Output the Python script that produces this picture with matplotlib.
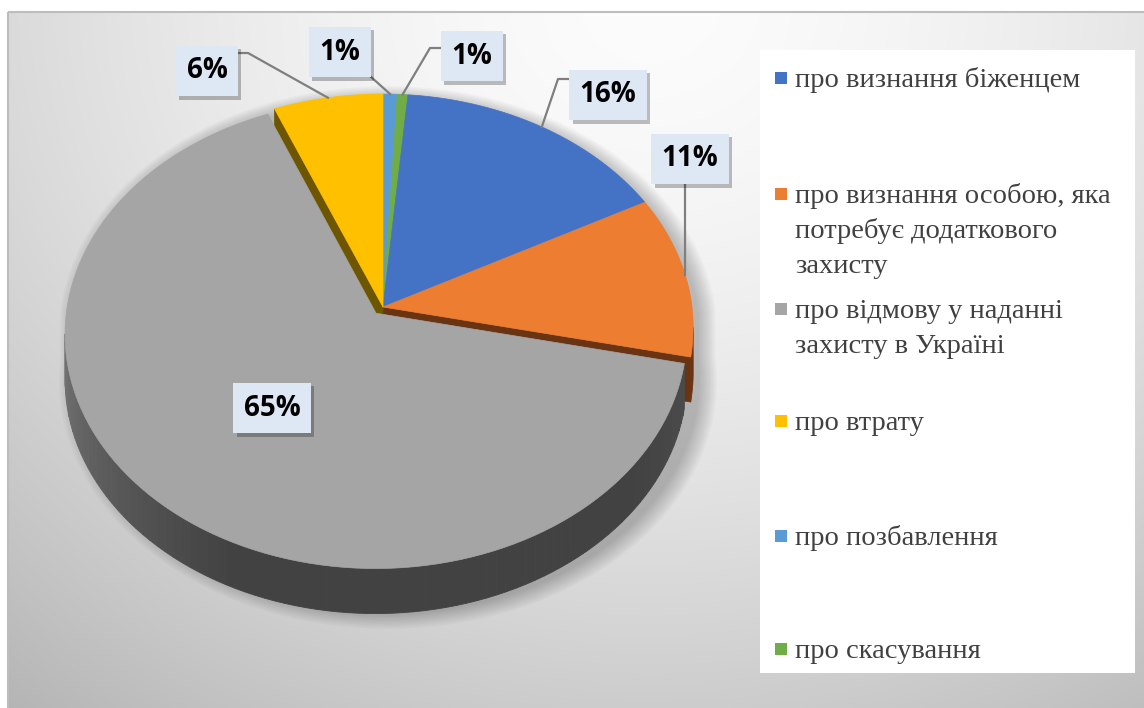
import numpy as np
import matplotlib.pyplot as plt
from matplotlib.patches import Polygon, Rectangle
import matplotlib.patheffects as pe

# data (legend order)
categories = ['про визнання біженцем',
              'про визнання особою, яка\nпотребує додаткового\nзахисту',
              'про відмову у наданні\nзахисту в Україні',
              'про втрату',
              'про позбавлення',
              'про скасування']
shares = [15.8, 11.2, 65.4, 6.2, 0.8, 0.6]
pct_labels = ['%d%%' % round(s) for s in shares]

colors = ['#4472c4', '#ed7d31', '#a5a5a5', '#ffc000', '#5b9bd5', '#70ad47']
wall_colors = ['#2c4a80', '#6a3412', '#444444', '#6e5600', '#3a6690', '#48702e']

# clockwise order starting from 12 o'clock
draw_order = [4, 5, 0, 1, 2, 3]
explode = [0, 0, 0.035, 0, 0, 0]

# pie geometry (pixels) with a bit of perspective
cx, cy = 383, 307
R, S, k = 309, 231.7, 0.088
depth = 45


def proj(u, v, z=0.0):
    w = 1 + k * v
    return cx + R * u / w, cy - S * v / w + z


def arc(a1, a2, off=(0, 0), z=0.0, n=120):
    t = np.radians(np.linspace(a1, a2, n))
    x, y = proj(np.cos(t) + off[0], np.sin(t) + off[1], z)
    return np.column_stack([x, y])


# wedge angles (degrees, math convention, going clockwise)
angles = {}
a = 90.0
for i in draw_order:
    span = shares[i] / sum(shares) * 360
    angles[i] = (a, a - span)
    a -= span

offsets = {}
for i in range(len(shares)):
    mid = np.radians(sum(angles[i]) / 2)
    offsets[i] = (explode[i] * np.cos(mid), explode[i] * np.sin(mid))

fig = plt.figure(figsize=(11.44, 7.08), dpi=100)
fig.patch.set_facecolor('white')
ax = fig.add_axes([0, 0, 1, 1])
ax.set_xlim(0, 1144)
ax.set_ylim(708, 0)
ax.axis('off')

# chart area background gradient
gx, gy = np.meshgrid(np.arange(8, 1144), np.arange(12, 708))
d = np.sqrt(((gx - 650) / 900.0) ** 2 + (gy / 800.0) ** 2)
shade = (252 - 58 * np.clip(d, 0, 1.2) ** 1.6) / 255.0
ax.imshow(np.dstack([shade, shade, shade]), extent=(8, 1144, 708, 12),
          aspect='auto', zorder=0)
ax.add_patch(Rectangle((8, 12), 1140, 700, fill=False, ec='#bdbdbd', lw=1.5, zorder=1))

# soft shadow under the pie
sil = np.vstack([arc(0, 180), arc(180, 360, z=depth)])
for j in range(10, 0, -1):
    sc = 1 + j * 0.006
    pts = np.column_stack([(sil[:, 0] - cx) * sc + cx + 5,
                           (sil[:, 1] - cy - 20) * sc + cy + 20 + 6])
    ax.add_patch(Polygon(pts, closed=True, fc='black', ec='none', alpha=0.025, zorder=2))

vis_hi = -np.degrees(np.arcsin(k))
vis_lo = -180 - vis_hi


def radial_wall(i, ang):
    o = offsets[i]
    t = np.radians(ang)
    p0 = proj(o[0], o[1])
    p1 = proj(np.cos(t) + o[0], np.sin(t) + o[1])
    pts = [p0, p1, (p1[0], p1[1] + depth), (p0[0], p0[1] + depth)]
    ax.add_patch(Polygon(pts, closed=True, fc=wall_colors[i], ec=wall_colors[i],
                         lw=0.5, zorder=3))


def outer_wall(i, gradient=False):
    a1, a2 = angles[i]
    hi, lo = min(a1, vis_hi), max(a2, vis_lo)
    if hi <= lo:
        return
    o = offsets[i]
    if not gradient:
        top = arc(hi, lo, o)
        bot = arc(lo, hi, o, z=depth)
        ax.add_patch(Polygon(np.vstack([top, bot]), closed=True, fc=wall_colors[i],
                             ec=wall_colors[i], lw=0.5, zorder=4))
        return
    edges = np.linspace(hi, lo, 90)
    for s1, s2 in zip(edges[:-1], edges[1:]):
        t = ((s1 + s2) / 2 - vis_lo) / (vis_hi - vis_lo)
        g = np.interp(t, [0, 0.35, 0.8, 1], [115, 66, 66, 78]) / 255.0
        top = arc(s1, s2, o, n=4)
        bot = arc(s2, s1, o, z=depth, n=4)
        ax.add_patch(Polygon(np.vstack([top, bot]), closed=True, fc=(g, g, g),
                             ec=(g, g, g), lw=0.6, zorder=4))


# walls revealed by the exploded grey slice
radial_wall(1, angles[1][1])
radial_wall(3, angles[3][0])
outer_wall(1)
outer_wall(2, gradient=True)

# top faces
for i in draw_order:
    a1, a2 = angles[i]
    o = offsets[i]
    c = proj(o[0], o[1])
    pts = np.vstack([[c], arc(a1, a2, o)])
    ax.add_patch(Polygon(pts, closed=True, fc=colors[i], ec=colors[i], lw=0.5,
                         zorder=6 if i == 2 else 5))

# data labels
label_pos = {0: (608, 95), 1: (690, 159), 2: (272, 408),
             3: (207, 71), 4: (340, 52), 5: (472, 56)}
leader_tail = {0: [(558, 79), (572, 79)], 1: None, 2: [],
               3: [(248, 53), (237, 53)], 4: [(370, 76)], 5: [(430, 48), (443, 48)]}

for i in range(len(shares)):
    mid = sum(angles[i]) / 2
    rim = arc(mid, mid, offsets[i], n=1)[0]
    if leader_tail[i] is None:
        line = [rim, (rim[0], 183)]
    else:
        line = [rim] + leader_tail[i]
    if len(line) > 1:
        lx, ly = zip(*line)
        ax.plot(lx, ly, color='#7f7f7f', lw=1.6, zorder=7)
    txt = ax.text(label_pos[i][0], label_pos[i][1], pct_labels[i], ha='center',
                  va='center', fontsize=20, fontweight='bold', family='Open Sans',
                  color='black', zorder=8,
                  bbox=dict(boxstyle='square,pad=0.38', fc='#dde8f4', ec='none'))
    txt.get_bbox_patch().set_path_effects([
        pe.SimplePatchShadow(offset=(2.5, -2.5), shadow_rgbFace='black', alpha=0.25),
        pe.Normal()])

# legend
ax.add_patch(Rectangle((760, 50), 375, 623, fc='white', ec='none', zorder=7))
baselines = [87, 203, 318, 430, 545, 658]
for i, name in enumerate(categories):
    y0 = baselines[i]
    ax.add_patch(Rectangle((775, y0 - 15), 12, 12, fc=colors[i], ec='none', zorder=8))
    for j, line in enumerate(name.split('\n')):
        ax.text(795, y0 + j * 35, line, ha='left', va='baseline', fontsize=20.5,
                family='Liberation Serif', color='#404040', zorder=8)

fig.savefig('out.png', dpi=100)
